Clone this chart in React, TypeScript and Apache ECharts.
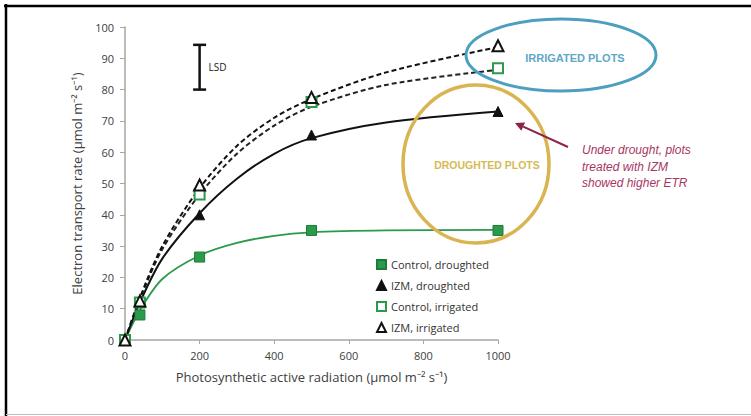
import React, { useEffect, useRef } from "react";
import * as echarts from "echarts";

// measured points
const parLevels = [0, 40, 200, 500, 1000];
const controlDroughted = [0, 8, 26.5, 35, 35];
const izmDroughted = [0, 12, 40, 65.5, 73];
const controlIrrigated = [0, 12, 46.5, 76, 86.8];
const izmIrrigated = [0, 12.5, 49.5, 77.5, 94];
// fitted curves
const fitPar = [0, 40, 100, 200, 300, 400, 500, 700, 1000];
const fitControlDroughted = [0, 9.5, 19.5, 27, 31, 33.3, 34.4, 35, 35.2];
const fitIzmDroughted = [0, 12, 26, 40.5, 51.5, 59.5, 64.5, 69.5, 73];
const fitControlIrrigated = [0, 13, 29, 46.5, 59.5, 68.5, 74.5, 81.5, 86.3];
const fitIzmIrrigated = [0, 13.5, 30, 48.5, 62, 71, 77, 85.5, 93.6];
const lsdBar = [200, 80, 94.3];
const seriesNames = ["Control, droughted", "IZM, droughted", "Control, irrigated", "IZM, irrigated"];

const GREEN = "#2c9a4b";
const FONT = "'Open Sans', sans-serif";

const pairs = (xs: number[], ys: number[]) => xs.map((x, i) => [x, ys[i]]);

export default function App() {
  const ref = useRef<HTMLDivElement>(null);
  useEffect(() => {
    document.body.style.margin = "0";
    const chart = echarts.init(ref.current as HTMLDivElement, null, { renderer: "svg" });
    const curve = (data: number[], color: string, width: number, type: any) => ({
      type: "line",
      data: pairs(fitPar, data),
      smooth: 0.3,
      showSymbol: false,
      silent: true,
      lineStyle: { color, width, type },
      z: 2,
    });
    const scatter = (name: string, data: number[], symbol: string, fill: string, stroke: string, size: number) => ({
      type: "scatter",
      name,
      data: pairs(parLevels, data),
      symbol,
      symbolSize: size,
      itemStyle: { color: fill, borderColor: stroke, borderWidth: fill === "#ffffff" ? 2 : 1, opacity: 1 },
      z: 5,
    });
    const tip = [515, 123];
    const tail = [568, 147];
    const dx = tip[0] - tail[0], dy = tip[1] - tail[1];
    const len = Math.hypot(dx, dy);
    const ux = dx / len, uy = dy / len;
    const bx = tip[0] - 9 * ux, by = tip[1] - 9 * uy;
    const nx = -uy, ny = ux;
    chart.setOption({
      animation: false,
      backgroundColor: "#ffffff",
      grid: { left: 125, right: 253, top: 27, bottom: 76, containLabel: false },
      xAxis: {
        type: "value",
        min: 0,
        max: 1000,
        interval: 200,
        splitLine: { show: false },
        axisLine: { lineStyle: { color: "#a6a6a6", width: 1.5 } },
        axisTick: { show: true, length: 4, lineStyle: { color: "#a6a6a6" } },
        axisLabel: { color: "#404040", fontSize: 11, fontFamily: FONT, margin: 10, formatter: (v: number) => String(v) },
        name: "Photosynthetic active radiation (µmol m⁻² s⁻¹)",
        nameLocation: "middle",
        nameGap: 30,
        nameTextStyle: { color: "#404040", fontSize: 13, fontFamily: FONT },
      },
      yAxis: {
        type: "value",
        min: 0,
        max: 100,
        interval: 10,
        splitLine: { show: false },
        axisLine: { show: true, lineStyle: { color: "#a6a6a6", width: 1.5 } },
        axisTick: { show: true, length: 5, lineStyle: { color: "#a6a6a6" } },
        axisLabel: { color: "#404040", fontSize: 11, fontFamily: FONT, margin: 11 },
        name: "Electron transport rate (µmol m⁻² s⁻¹)",
        nameLocation: "middle",
        nameGap: 42,
        nameTextStyle: { color: "#404040", fontSize: 13, fontFamily: FONT },
      },
      legend: {
        data: seriesNames,
        orient: "vertical",
        left: 371,
        top: 254,
        itemWidth: 9,
        itemHeight: 9,
        itemGap: 10,
        textStyle: { color: "#333333", fontSize: 11, fontFamily: FONT },
        selectedMode: false,
      },
      series: [
        curve(fitControlDroughted, GREEN, 1.8, "solid"),
        curve(fitIzmDroughted, "#111111", 2, "solid"),
        curve(fitControlIrrigated, "#222222", 2, [5, 3]),
        curve(fitIzmIrrigated, "#111111", 2, [5, 3]),
        scatter(seriesNames[0], controlDroughted, "rect", GREEN, "#1f7a3a", 10),
        scatter(seriesNames[1], izmDroughted, "triangle", "#111111", "#111111", 10),
        scatter(seriesNames[2], controlIrrigated, "rect", "#ffffff", GREEN, 10),
        scatter(seriesNames[3], izmIrrigated, "triangle", "#ffffff", "#111111", 11),
        {
          type: "custom",
          silent: true,
          data: [lsdBar],
          z: 6,
          renderItem: (params: any, api: any) => {
            const top = api.coord([api.value(0), api.value(2)]);
            const bot = api.coord([api.value(0), api.value(1)]);
            const st = { stroke: "#111111", lineWidth: 2.5 };
            return {
              type: "group",
              children: [
                { type: "line", shape: { x1: top[0], y1: top[1], x2: bot[0], y2: bot[1] }, style: st },
                { type: "line", shape: { x1: top[0] - 6.5, y1: top[1], x2: top[0] + 6.5, y2: top[1] }, style: st },
                { type: "line", shape: { x1: bot[0] - 6.5, y1: bot[1], x2: bot[0] + 6.5, y2: bot[1] }, style: st },
                {
                  type: "text",
                  x: top[0] + 9,
                  y: (top[1] + bot[1]) / 2,
                  style: { text: "LSD", fontSize: 10, fill: "#222222", fontFamily: FONT, verticalAlign: "middle", align: "left" },
                },
              ],
            };
          },
        },
      ],
      graphic: [
        { type: "line", shape: { x1: 4, y1: 6, x2: 751, y2: 6 }, style: { stroke: "#000000", lineWidth: 2.5 }, z: 10 },
        { type: "line", shape: { x1: 6, y1: 4, x2: 6, y2: 416 }, style: { stroke: "#000000", lineWidth: 2.5 }, z: 10 },
        { type: "line", shape: { x1: 6, y1: 414.5, x2: 751, y2: 414.5 }, style: { stroke: "#bdbdbd", lineWidth: 1 }, z: 10 },
        {
          type: "ellipse",
          shape: { cx: 561, cy: 55, rx: 95, ry: 36 },
          style: { fill: "none", stroke: "#4d9fc0", lineWidth: 3 },
          z: 8,
        },
        {
          type: "text",
          x: 575,
          y: 58,
          style: { text: "IRRIGATED PLOTS", fontSize: 11, fontWeight: "bold", fill: "#5ea8c8", fontFamily: "'Liberation Sans', Arial, sans-serif", align: "center", verticalAlign: "middle" },
          z: 8,
        },
        {
          type: "ellipse",
          shape: { cx: 476, cy: 164, rx: 73, ry: 79 },
          style: { fill: "none", stroke: "#d9b451", lineWidth: 3.5 },
          z: 8,
        },
        {
          type: "text",
          x: 487,
          y: 165,
          style: { text: "DROUGHTED PLOTS", fontSize: 10.5, fontWeight: "bold", fill: "#d6bb55", fontFamily: "'Liberation Sans', Arial, sans-serif", align: "center", verticalAlign: "middle" },
          z: 8,
        },
        {
          type: "line",
          shape: { x1: tail[0], y1: tail[1], x2: bx, y2: by },
          style: { stroke: "#8c2445", lineWidth: 2 },
          z: 9,
        },
        {
          type: "polygon",
          shape: { points: [tip, [bx + 4.5 * nx, by + 4.5 * ny], [bx - 4.5 * nx, by - 4.5 * ny]] },
          style: { fill: "#8c2445" },
          z: 9,
        },
        {
          type: "text",
          x: 582,
          y: 142,
          style: {
            text: "Under drought, plots\ntreated with IZM\nshowed higher ETR",
            fontSize: 12,
            fontStyle: "italic",
            lineHeight: 16.5,
            fill: "#a8365f",
            fontFamily: "'Liberation Sans', Arial, sans-serif",
            align: "left",
            verticalAlign: "top",
          },
          z: 9,
        },
      ],
    });
    return () => chart.dispose();
  }, []);
  return <div ref={ref} style={{ width: 751, height: 416 }} />;
}
